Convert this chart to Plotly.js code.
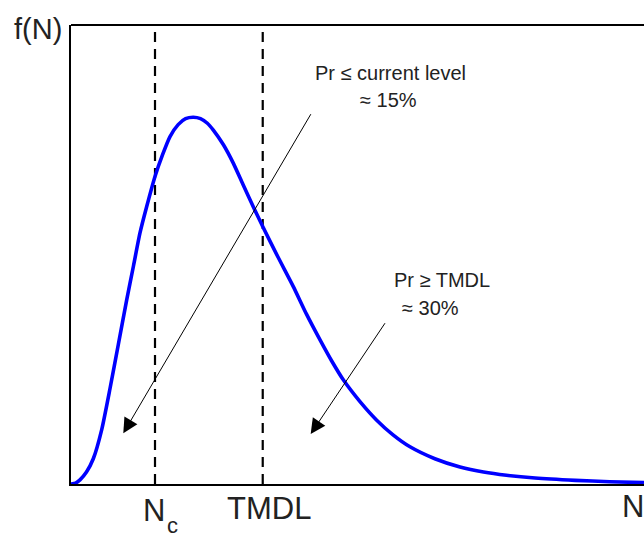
<!DOCTYPE html>
<html>
<head>
<meta charset="utf-8">
<script src="https://cdn.plot.ly/plotly-3.0.1.min.js"></script>
<style>html,body{margin:0;padding:0;background:#fff;overflow:hidden;}</style>
</head>
<body>
<div id="chart" style="width:644px;height:537px;"></div>
<script>
// Density curve f(N) (N in arbitrary units 0..100, f scaled 0..1)
var curveN = [0, 0.8, 1.57, 2.7, 3.89, 5.35, 6.81, 8.26, 9.72, 10.9, 12.04, 13.2, 14.66, 16.0, 17.28, 18.7, 20.0, 21.34, 22.6, 23.8, 24.84, 26.6, 28.32, 30.0, 31.81, 33.46, 36.1, 38.80, 41.1, 43.46, 45.5, 47.52, 50.4, 53.35, 56.2, 59.16, 63.5, 67.89, 72.0, 76.0, 81.0, 88.0, 94.0, 100];
var curveF = [0, 0.002, 0.009, 0.026, 0.055, 0.118, 0.208, 0.304, 0.401, 0.475, 0.547, 0.604, 0.670, 0.718, 0.757, 0.783, 0.796, 0.799, 0.796, 0.786, 0.771, 0.739, 0.699, 0.653, 0.604, 0.561, 0.495, 0.430, 0.370, 0.314, 0.268, 0.227, 0.180, 0.139, 0.107, 0.081, 0.055, 0.037, 0.026, 0.019, 0.013, 0.008, 0.005, 0.003];
// Threshold positions on N
var thresholdNames = ['N_c', 'TMDL'];
var thresholdN = [14.66, 33.46];
// Annotation texts
var noteTexts = [['Pr \u2264 current level', '\u2248 15%'], ['Pr \u2265 TMDL', '\u2248 30%']];

var L = 71, R = 644, T = 25, B = 484;
function px(x){ return (x - L) / (R - L); }   // pixel -> paper x
function py(y){ return (B - y) / (B - T); }   // pixel -> paper y
function dx(x){ return (x - L) / (R - L) * 100; } // pixel -> data x

var font = "'Liberation Sans', Arial, Helvetica, sans-serif";
var tcol = '#222';

var traces = [];
thresholdN.forEach(function(v){
  traces.push({x:[v, v], y:[0, 1], mode:'lines', line:{color:'#000', width:2.2, dash:'10px,7px'}, hoverinfo:'skip', showlegend:false});
});
traces.push({x:curveN, y:curveF, mode:'lines', line:{color:'#0000ff', width:3.6, shape:'spline', smoothing:0.6}, showlegend:false});

var ann = [];
// arrows
ann.push({x:dx(123.3), y:py(433.3), xref:'x', yref:'paper', axref:'x', ayref:'paper', ax:dx(311.7), ay:py(112.7), text:'', showarrow:true, arrowhead:2, arrowsize:3, arrowwidth:1, arrowcolor:'#000', standoff:0, startstandoff:0});
ann.push({x:dx(310.7), y:py(434), xref:'x', yref:'paper', axref:'x', ayref:'paper', ax:dx(386), ay:py(321.7), text:'', showarrow:true, arrowhead:2, arrowsize:3, arrowwidth:1, arrowcolor:'#000', standoff:0, startstandoff:0});
// notes
function note(t, x, y, size){
  ann.push({text:t, xref:'paper', yref:'paper', x:px(x), y:py(y), xanchor:'center', yanchor:'middle', showarrow:false, font:{family:font, size:size, color:tcol}});
}
note(noteTexts[0][0], 390, 73, 20);
note(noteTexts[0][1], 388, 100, 20);
note(noteTexts[1][0], 442, 280, 20);
note(noteTexts[1][1], 430, 308, 20);
// axis labels
note('f(N)', 38, 29, 29);
note('N', 154, 510, 31);
note('c', 172, 525, 22);
note(thresholdNames[1], 268.7, 508, 31);
note('N', 633, 507, 31);

var layout = {
  width:644, height:537,
  margin:{l:L, r:0, t:T, b:537-B, pad:0},
  paper_bgcolor:'#fff', plot_bgcolor:'#fff',
  xaxis:{range:[0,100], showline:true, linecolor:'#000', linewidth:2, showgrid:false, zeroline:false, showticklabels:false, ticks:''},
  yaxis:{range:[0,1], showline:true, linecolor:'#000', linewidth:2, showgrid:false, zeroline:false, showticklabels:false, ticks:''},
  shapes:[{type:'line', xref:'paper', yref:'paper', x0:0, x1:1.02, y0:1, y1:1, line:{color:'#000', width:2}}],
  annotations:ann,
  showlegend:false
};
Plotly.newPlot('chart', traces, layout, {staticPlot:true, displayModeBar:false});
</script>
</body>
</html>
